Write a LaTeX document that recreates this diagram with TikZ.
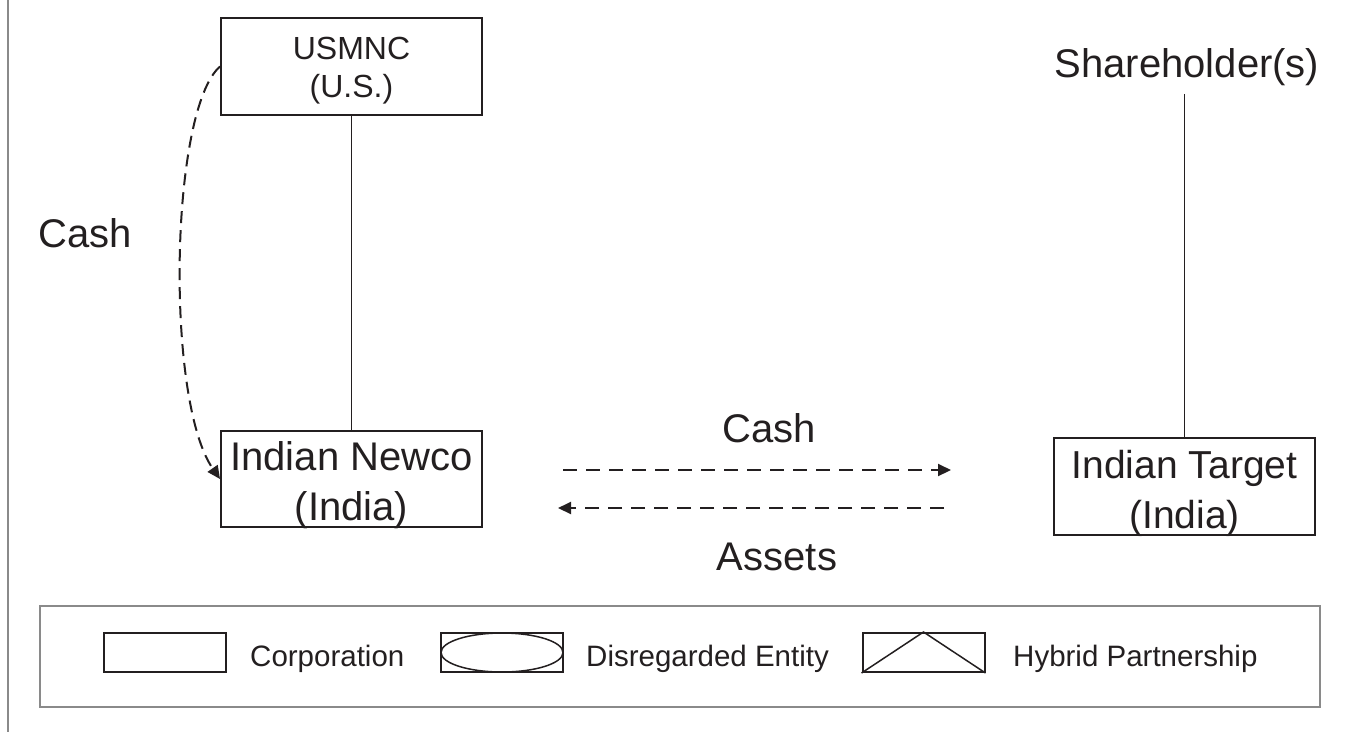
\documentclass[tikz,border=0pt]{standalone}
\usepackage{fontspec}
\setmainfont{Liberation Sans}
\usetikzlibrary{arrows.meta,shapes.geometric}
\definecolor{ink}{HTML}{231F20}
\definecolor{rule}{HTML}{8A8A8A}
\begin{document}
\begin{tikzpicture}[x=1pt,y=-1pt,
  every node/.style={text=ink},
  corpbox/.style={draw=ink, line width=2pt, rectangle, inner sep=0pt},
  bigtext/.style={inner sep=0pt, font=\fontsize{40pt}{50pt}\selectfont},
  midtext/.style={inner sep=0pt, font=\fontsize{39pt}{50pt}\selectfont},
  smalltext/.style={inner sep=0pt, font=\fontsize{32pt}{38pt}\selectfont},
  legtext/.style={inner sep=0pt, anchor=base west, font=\fontsize{29.5pt}{35pt}\selectfont},
  owns/.style={draw=ink, line width=1.6pt},
  flow/.style={draw=ink, line width=2pt, dash pattern=on 14pt off 9pt,
    -{Triangle[length=13pt,width=12pt]}},
  guide/.style={draw=rule, line width=1.6pt},
  legsym/.style={draw=ink, line width=1.5pt}]
\useasboundingbox (0,0) rectangle (1351,732);

% page rule on the left
\draw[guide] (8,0) -- (8,732);

% entities
\node[corpbox, minimum width=261pt, minimum height=97pt] (usmnc) at (351.5,66.5) {};
\node[smalltext, align=center] (usmnctxt) at (351.5,71) {USMNC\\(U.S.)};

\node[corpbox, minimum width=261pt, minimum height=96pt] (newco) at (351.5,479) {};
\node[bigtext, align=center] (newcotxt) at (351.5,485) {Indian Newco\\(India)};

\node[corpbox, minimum width=261pt, minimum height=97pt] (target) at (1184.5,486.5) {};
\node[midtext, align=center] (targettxt) at (1184.5,493) {Indian Target\\(India)};

\node[bigtext, anchor=base] (holders) at (1187,77) {Shareholder(s)};

% ownership lines
\draw[owns] (usmnc.south) -- (newco.north);
\draw[owns, shorten <=8.5pt] (holders.south -| target.north) -- (target.north);

% cash contribution from the parent
\node[bigtext, anchor=base] (cashleft) at (85.5,247) {Cash};
\draw[flow, dash pattern=on 12pt off 7pt]
  (usmnc.west) .. controls (170,110) and (165,400) .. (newco.west);

% asset purchase
\coordinate (payfrom) at (563,470);
\coordinate (payto) at (951,470);
\coordinate (assetfrom) at (944,508);
\coordinate (assetto) at (558,508);
\draw[flow] (payfrom) -- (payto);
\draw[flow] (assetfrom) -- (assetto);
\node[bigtext, anchor=base] (cashmid) at (769.5,442) {Cash};
\node[bigtext, anchor=base] (assets) at (777,570) {Assets};

% legend
\node[draw=rule, line width=1.6pt, inner sep=0pt, minimum width=1280pt,
  minimum height=101pt] (legend) at (680,656.5) {};
\node[corpbox, minimum width=122pt, minimum height=39pt] (legcorp) at (165,652.5) {};
\node[legtext] (legcorptxt) at (250,666.5) {Corporation};
\node[corpbox, minimum width=122pt, minimum height=39pt] (legdis) at (502,652.5) {};
\node[legsym, ellipse, inner sep=0pt, minimum width=122pt, minimum height=39pt]
  (legell) at (legdis.center) {};
\node[legtext] (legdistxt) at (586,666.5) {Disregarded Entity};
\node[corpbox, minimum width=122pt, minimum height=39pt] (leghyb) at (923.5,652.5) {};
\draw[legsym] (leghyb.south west) -- (leghyb.north) -- (leghyb.south east);
\node[legtext] (leghybtxt) at (1013,666.5) {Hybrid Partnership};
\end{tikzpicture}
\end{document}
